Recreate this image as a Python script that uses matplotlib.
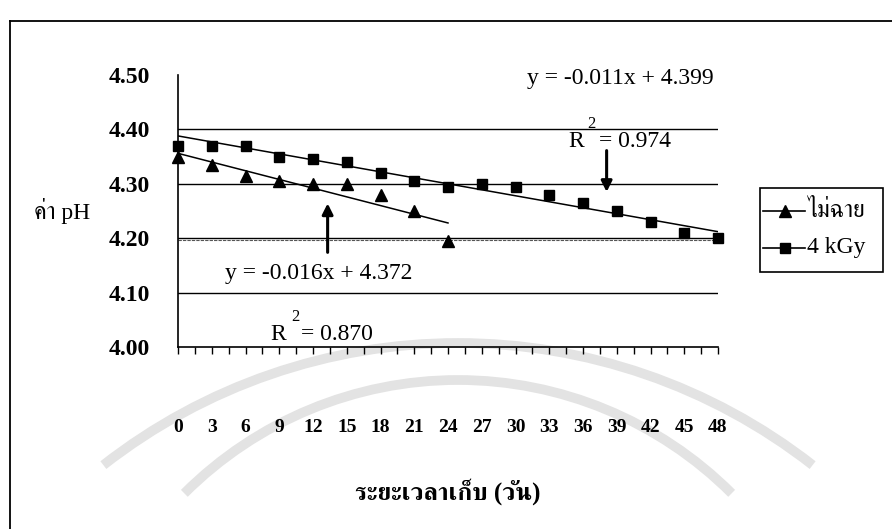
import numpy as np
import matplotlib
matplotlib.use("Agg")
import matplotlib.pyplot as plt
from matplotlib import font_manager
from matplotlib.ft2font import FT2Font
from matplotlib.lines import Line2D
from matplotlib.patches import Arc
from matplotlib.transforms import IdentityTransform

# storage days and pH readings
days = [0, 3, 6, 9, 12, 15, 18, 21, 24, 27, 30, 33, 36, 39, 42, 45, 48]
ph_control = [4.35, 4.335, 4.315, 4.305, 4.30, 4.30, 4.28, 4.25, 4.195]
ph_4kgy = [4.37, 4.37, 4.37, 4.35, 4.345, 4.34, 4.32, 4.305, 4.295,
           4.30, 4.295, 4.28, 4.265, 4.25, 4.23, 4.21, 4.20]

# linear trend lines (x = point number 1, 2, 3, ...)
fit_control = (-0.016, 4.372, 0.870)
fit_4kgy = (-0.011, 4.399, 0.974)

series_names = ["ไม่ฉาย", "4 kGy"]
yticks = [4.00, 4.10, 4.20, 4.30, 4.40, 4.50]


def find_thai_font():
    # pick any installed family that has Thai glyphs
    found = []
    for f in font_manager.fontManager.ttflist:
        try:
            cmap = FT2Font(f.fname).get_charmap()
        except Exception:
            continue
        if 0x0E04 in cmap and 0x0E32 in cmap and 0x0E48 in cmap:
            found.append(f.name)
    for name in found:
        if "Serif" in name or "Norasi" in name:
            return name
    return found[0] if found else "DejaVu Sans"


thai = find_thai_font()
plt.rcParams["font.family"] = ["Liberation Serif", thai, "DejaVu Sans"]

W, H = 892, 529
fig = plt.figure(figsize=(W / 100, H / 100), dpi=100)


def px(x, y):
    # pixel position (from top-left) -> figure fraction
    return x / W, 1 - y / H


# faint seal printed behind the chart (circles in pixel space)
for cx, cy, r, t1, t2 in [(458, 919, 576, 52, 128), (458, 767, 387, 45, 135)]:
    fig.add_artist(Arc((cx, H - cy), 2 * r, 2 * r, theta1=t1, theta2=t2,
                       transform=IdentityTransform(), color="#e3e3e3", lw=7,
                       zorder=0))

# plot area in pixels: left 178, right 718, top 75, bottom 347
ax = fig.add_axes([178 / W, 1 - 347 / H, 540 / W, 272 / H])
ax.patch.set_alpha(0)
ax.set_xlim(0, 48)
ax.set_ylim(4.00, 4.50)

for v in yticks[1:-1]:
    ax.axhline(v, color="black", lw=1.0, zorder=1)
ax.axhline(4.196, color="#555555", lw=0.8, ls=(0, (3, 1)), zorder=1)

# trend lines
for (slope, icpt, _), vals in [(fit_control, ph_control), (fit_4kgy, ph_4kgy)]:
    n = np.arange(1, len(vals) + 1)
    ax.plot(days[:len(vals)], slope * n + icpt, color="black", lw=1.1, zorder=2)

ax.plot(days[:len(ph_control)], ph_control, ls="none", marker="^",
        ms=9, color="black", zorder=3, clip_on=False)
ax.plot(days, ph_4kgy, ls="none", marker="s", ms=7.5, color="black",
        zorder=3, clip_on=False)

# axes styling
for s in ["top", "right"]:
    ax.spines[s].set_visible(False)
ax.spines["left"].set_linewidth(1.2)
ax.spines["bottom"].set_linewidth(1.2)
ax.set_yticks(yticks)
ax.set_yticklabels([f"{v:.2f}" for v in yticks], fontsize=17, fontweight="bold")
ax.tick_params(axis="y", length=0, pad=20)
ax.set_xticks(days)
ax.set_xticklabels([str(d) for d in days], fontsize=14, fontweight="bold")
ax.set_xticks(np.arange(1.5, 48, 3), minor=True)
ax.tick_params(axis="x", which="both", direction="out", length=5,
               width=1.0, pad=47)

# equations and R-squared labels
ax.text(39.3, 4.494, f"y = {fit_4kgy[0]:.3f}x + {fit_4kgy[1]:.3f}",
        fontsize=17, ha="center", va="center")
ax.text(34.7, 4.367, "R", fontsize=17, ha="left", va="baseline")
ax.text(36.4, 4.402, "2", fontsize=12, ha="left", va="baseline")
ax.text(37.4, 4.367, f"= {fit_4kgy[2]:.3f}", fontsize=17, ha="left", va="baseline")

ax.text(4.2, 4.136, f"y = {fit_control[0]:.3f}x + {fit_control[1]:.3f}",
        fontsize=17, ha="left", va="center")
ax.text(8.2, 4.013, "R", fontsize=17, ha="left", va="baseline")
ax.text(10.1, 4.048, "2", fontsize=12, ha="left", va="baseline")
ax.text(10.9, 4.013, f"= {fit_control[2]:.3f}", fontsize=17, ha="left", va="baseline")

arrow = dict(arrowstyle="-|>", lw=2.2, color="black", mutation_scale=16,
             shrinkA=0, shrinkB=0)
ax.annotate("", xy=(13.3, 4.264), xytext=(13.3, 4.174), arrowprops=arrow)
ax.annotate("", xy=(38.1, 4.285), xytext=(38.1, 4.361), arrowprops=arrow)

# axis titles
fig.text(*px(62, 211), "ค่า pH", fontsize=17, ha="center", va="center")
fig.text(*px(448, 492), "ระยะเวลาเก็บ (วัน)", fontsize=18,
         ha="center", va="center", fontweight="bold")

# legend box drawn by hand
lx0, lx1, ly0, ly1 = 760, 883, 188, 272
fig.add_artist(plt.Rectangle(px(lx0, ly1), (lx1 - lx0) / W,
                             (ly1 - ly0) / H, fill=False, ec="black", lw=1.2))
for name, mk, ms, yy in [(series_names[0], "^", 9, 211), (series_names[1], "s", 7, 248)]:
    fig.add_artist(Line2D([763 / W, 805 / W], [1 - yy / H] * 2, color="black", lw=1.2))
    fig.add_artist(Line2D([785 / W], [1 - yy / H], marker=mk, ms=ms, color="black"))
    fig.text(*px(807, yy), name, fontsize=17, ha="left", va="center")

# outer chart border
fig.add_artist(Line2D([10 / W, 10 / W], [0, 1 - 21 / H], color="black", lw=1.3))
fig.add_artist(Line2D([10 / W, 1], [1 - 21 / H] * 2, color="black", lw=1.3))

fig.savefig("out.png", dpi=100)
